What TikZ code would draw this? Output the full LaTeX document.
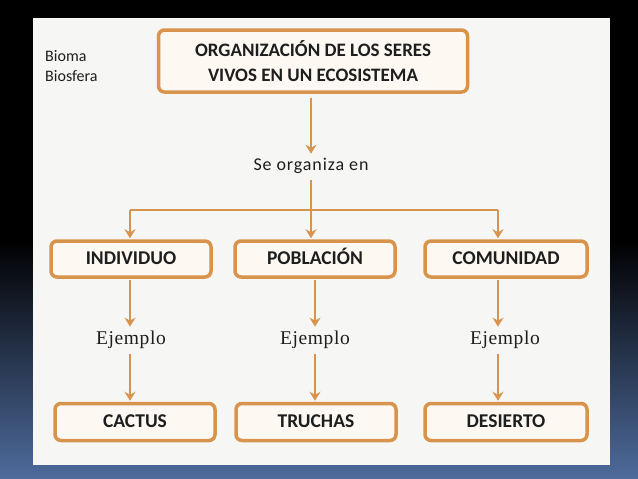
\documentclass[tikz,border=0pt]{standalone}
\usepackage{fontspec}
\setmainfont{Carlito}
\newfontfamily\serifej[LetterSpace=3]{Liberation Serif}
\newfontfamily\spacedsans[LetterSpace=5]{Carlito}
\usetikzlibrary{arrows.meta,positioning}
\definecolor{orng}{HTML}{D8934C}
\definecolor{cream}{HTML}{FDF9F2}
\definecolor{panel}{HTML}{F6F6F4}
\definecolor{bgblue}{HTML}{4E6B9C}
\definecolor{txt}{HTML}{1E1E1E}
\tikzset{
  box/.style={draw=orng, line width=3.5pt, rounded corners=6pt, fill=cream,
    inner sep=0pt, font=\bfseries\fontsize{19.5}{21}\selectfont, text=txt},
  sbox/.style={box, text height=13pt, text depth=2pt},
  arr/.style={draw=orng, line width=2.6pt, -{Stealth[length=9pt,width=11pt,inset=3pt]}},
  ln/.style={draw=orng, line width=2.6pt},
  ej/.style={font=\serifej\fontsize{19.5}{21}\selectfont, text=txt},
}
\begin{document}
\begin{tikzpicture}[x=1pt,y=-1pt]
\useasboundingbox (0,0) rectangle (638,479);
\fill[black] (0,0) rectangle (638,240);
\shade[top color=black, bottom color=bgblue] (0,240) rectangle (638,479);
\fill[panel] (33,18) rectangle (610,465);
\node[anchor=west, inner sep=0pt, font=\fontsize{16}{20}\selectfont, text=txt, align=left] (bio) at (45,66) {Bioma\\Biosfera};
\node[box, minimum width=309pt, minimum height=62pt, align=center, font=\bfseries\fontsize{19}{25}\selectfont] (title) at (313,61) {ORGANIZACIÓN DE LOS SERES\\VIVOS EN UN ECOSISTEMA};
\node[font=\spacedsans\fontsize{18}{20}\selectfont, text=txt] (se) at (311,166) {Se organiza en};
\node[sbox, minimum width=160pt, minimum height=36pt] (ind) at (131,259) {INDIVIDUO};
\node[sbox, minimum width=160pt, minimum height=36pt] (pob) at (315,259) {POBLACIÓN};
\node[sbox, minimum width=162pt, minimum height=36pt] (com) at (506,259) {COMUNIDAD};
\node[ej] (e1) at (131,340) {Ejemplo};
\node[ej] (e2) at (315,340) {Ejemplo};
\node[ej] (e3) at (505,340) {Ejemplo};
\node[sbox, minimum width=160pt, minimum height=37pt] (cac) at (135,422) {CACTUS};
\node[sbox, minimum width=160pt, minimum height=37pt] (tru) at (316,422) {TRUCHAS};
\node[sbox, minimum width=162pt, minimum height=37pt] (des) at (506,422) {DESIERTO};
\coordinate (hl) at (130,210);
\coordinate (hr) at (498,210);
\draw[arr, shorten <=4pt, shorten >=1pt] (title.south -| se.north) -- (se.north);
\draw[ln] (hl) -- (hr);
\draw[arr, shorten <=3pt, shorten >=1pt] (se.south) -- (se.south |- pob.north);
\draw[arr, shorten >=1pt] (hl) -- (hl |- ind.north);
\draw[arr, shorten >=1pt] (hr) -- (hr |- com.north);
\draw[arr, shorten <=1pt, shorten >=1pt] (ind.south -| hl) -- (hl |- e1.north);
\draw[arr, shorten <=1pt, shorten >=1pt] (pob.south) -- (e2.north);
\draw[arr, shorten <=1pt, shorten >=1pt] (com.south -| hr) -- (hr |- e3.north);
\draw[arr, shorten <=2pt, shorten >=1pt] (e1.south -| hl) -- (hl |- cac.north);
\draw[arr, shorten <=2pt, shorten >=1pt] (e2.south) -- (tru.north -| e2.south);
\draw[arr, shorten <=2pt, shorten >=1pt] (e3.south -| hr) -- (hr |- des.north);
\end{tikzpicture}
\end{document}
